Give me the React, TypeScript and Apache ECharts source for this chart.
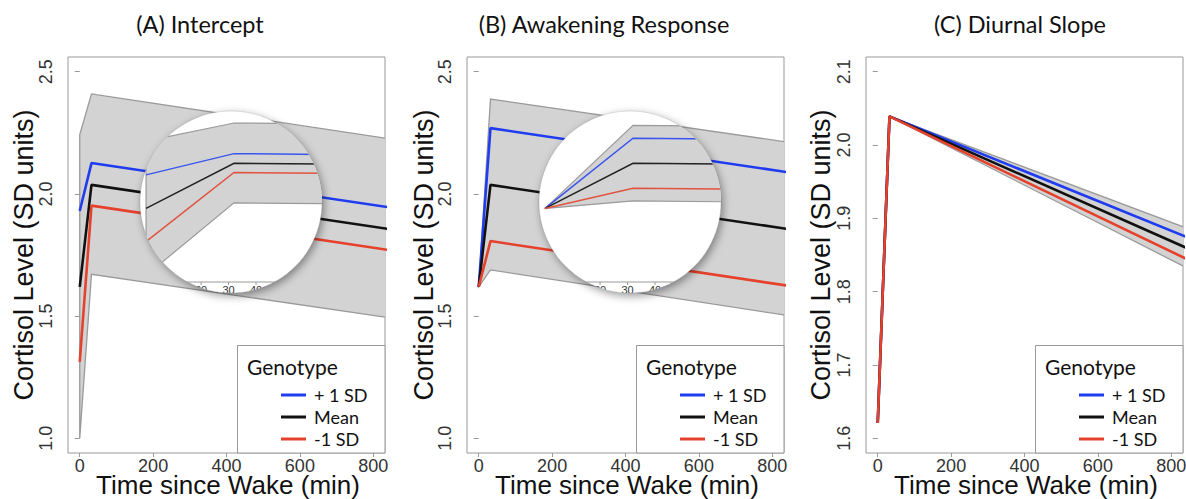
import React, { useEffect, useRef } from "react";
import * as echarts from "echarts";

// ---------- data ----------
const TIME = [0, 32, 840];

const A_PLUS = [1.93, 2.126, 1.946];
const A_MEAN = [1.62, 2.037, 1.857];
const A_MINUS = [1.313, 1.952, 1.771];
const A_UPPER = [2.242, 2.409, 2.226];
const A_LOWER = [1.0, 1.671, 1.494];

const B_PLUS = [1.62, 2.269, 2.089];
const B_MEAN = [1.62, 2.037, 1.857];
const B_MINUS = [1.62, 1.807, 1.625];
const B_UPPER = [1.62, 2.388, 2.212];
const B_LOWER = [1.62, 1.689, 1.503];

const C_PLUS = [1.621, 2.039, 1.875];
const C_MEAN = [1.621, 2.039, 1.86];
const C_MINUS = [1.621, 2.039, 1.845];
const C_UPPER = [1.621, 2.039, 1.887];
const C_LOWER = [1.621, 2.039, 1.833];

const X_TICKS = [0, 200, 400, 600, 800];
const Y_TICKS_AB = [1.0, 1.5, 2.0, 2.5];
const Y_TICKS_C = [1.6, 1.7, 1.8, 1.9, 2.0, 2.1];
const INSET_TICKS = [10, 20, 30, 40, 50, 60];

const SERIES_NAMES = ["+ 1 SD", "Mean", "-1 SD"];
const TITLES = ["(A) Intercept", "(B) Awakening Response", "(C) Diurnal Slope"];
const Y_TITLE = "Cortisol Level (SD units)";
const X_TITLE = "Time since Wake (min)";
const LEGEND_TITLE = "Genotype";

// ---------- styles ----------
const COLORS = ["#1f3cf0", "#111111", "#e5412c"];
const INSET_COLORS = ["#3a55ee", "#222222", "#e0533f"];
const BAND_FILL = "#d3d3d3";
const BAND_STROKE = "#9a9a9a";
const BOX = "#999999";
const AXIS_FONT = "Liberation Sans";
const TEXT_FONT = "Lato";

type Panel = {
  left: number;
  yMin: number;
  yMax: number;
  yTicks: number[];
  lines: number[][];
  upper: number[];
  lower: number[];
  inset: boolean;
  titleX: number;
  yTitleX: number;
  xTitleX: number;
};

const PANELS: Panel[] = [
  { left: 68, yMin: 0.94, yMax: 2.56, yTicks: Y_TICKS_AB, lines: [A_PLUS, A_MEAN, A_MINUS], upper: A_UPPER, lower: A_LOWER, inset: true, titleX: 200, yTitleX: 24, xTitleX: 228 },
  { left: 467, yMin: 0.94, yMax: 2.56, yTicks: Y_TICKS_AB, lines: [B_PLUS, B_MEAN, B_MINUS], upper: B_UPPER, lower: B_LOWER, inset: true, titleX: 604, yTitleX: 424, xTitleX: 627 },
  { left: 866, yMin: 1.58, yMax: 2.12, yTicks: Y_TICKS_C, lines: [C_PLUS, C_MEAN, C_MINUS], upper: C_UPPER, lower: C_LOWER, inset: false, titleX: 1020, yTitleX: 821, xTitleX: 1026 },
];

const GRID_TOP = 57;
const GRID_W = 317;
const GRID_H = 396;
const INSET_R = 91;
const INSET_CY = 202;

function buildOption(): any {
  const grid: any[] = [];
  const xAxis: any[] = [];
  const yAxis: any[] = [];
  const series: any[] = [];
  const legend: any[] = [];
  const graphic: any[] = [];

  PANELS.forEach((p, i) => {
    grid.push({
      left: p.left,
      top: GRID_TOP,
      width: GRID_W,
      height: GRID_H,
      show: true,
      borderColor: BOX,
      borderWidth: 1,
      backgroundColor: "transparent",
      containLabel: false,
      outerBoundsMode: "none",
    });
    xAxis.push({
      type: "value",
      gridIndex: i,
      min: -32,
      max: 832,
      axisLine: { show: false },
      splitLine: { show: false },
      axisTick: { show: true, customValues: X_TICKS, length: 4, lineStyle: { color: BOX } },
      axisLabel: {
        customValues: X_TICKS,
        color: "#333",
        fontSize: 18,
        lineHeight: 14,
        fontFamily: AXIS_FONT,
        margin: 6,
      },
    });
    yAxis.push({
      type: "value",
      gridIndex: i,
      min: p.yMin,
      max: p.yMax,
      axisLine: { show: false },
      splitLine: { show: false },
      axisTick: { show: true, customValues: p.yTicks, length: 5, lineStyle: { color: BOX } },
      axisLabel: {
        customValues: p.yTicks,
        rotate: 90,
        formatter: (v: number) => v.toFixed(1),
        color: "#333",
        fontSize: 18,
        lineHeight: 16,
        fontFamily: AXIS_FONT,
        margin: 14,
      },
    });

    // confidence band
    series.push({
      type: "custom",
      xAxisIndex: i,
      yAxisIndex: i,
      clip: true,
      silent: true,
      z: 1,
      data: [[TIME[0], p.upper[0]]],
      renderItem: (_params: any, api: any) => {
        const pts: number[][] = [];
        TIME.forEach((t, j) => pts.push(api.coord([t, p.upper[j]])));
        for (let j = TIME.length - 1; j >= 0; j--) pts.push(api.coord([TIME[j], p.lower[j]]));
        return {
          type: "polygon",
          shape: { points: pts },
          style: { fill: BAND_FILL, stroke: BAND_STROKE, lineWidth: 1.3 },
        };
      },
    });

    p.lines.forEach((arr, k) => {
      series.push({
        type: "line",
        name: SERIES_NAMES[k],
        xAxisIndex: i,
        yAxisIndex: i,
        data: TIME.map((t, j) => [t, arr[j]]),
        symbol: "none",
        showSymbol: false,
        clip: true,
        silent: true,
        z: 2,
        color: COLORS[k],
        itemStyle: { color: COLORS[k] },
        lineStyle: { color: COLORS[k], width: 2.6 },
      });
    });

    legend.push({
      left: p.left + 213,
      top: 386,
      orient: "vertical",
      icon: "rect",
      itemWidth: 25,
      itemHeight: 3,
      itemGap: 4,
      padding: 0,
      selectedMode: false,
      z: 6,
      itemStyle: { borderWidth: 0 },
      data: SERIES_NAMES,
      textStyle: { fontFamily: TEXT_FONT, fontSize: 18, lineHeight: 18, color: "#111", padding: [0, 0, 0, 3] },
    });

    graphic.push(
      {
        type: "text",
        x: p.titleX,
        y: 24,
        z: 5,
        style: { text: TITLES[i], font: `23.5px ${TEXT_FONT}`, fill: "#111", align: "center", verticalAlign: "middle" },
      },
      {
        type: "text",
        x: p.yTitleX,
        y: 255,
        rotation: Math.PI / 2,
        z: 5,
        style: { text: Y_TITLE, font: `27px ${AXIS_FONT}`, lineHeight: 24, fill: "#111", align: "center", verticalAlign: "middle" },
      },
      {
        type: "text",
        x: p.xTitleX,
        y: 485,
        z: 5,
        style: { text: X_TITLE, font: `26px ${AXIS_FONT}`, lineHeight: 22, fill: "#111", align: "center", verticalAlign: "middle" },
      },
      {
        type: "rect",
        z: 4,
        shape: { x: p.left + 169.5, y: 345.5, width: GRID_W - 169.5, height: GRID_H - 288.5 },
        style: { fill: "#fff", stroke: BOX, lineWidth: 1 },
      },
      {
        type: "text",
        x: p.left + 179,
        y: 366,
        z: 5,
        style: { text: LEGEND_TITLE, font: `21px ${TEXT_FONT}`, fill: "#111", align: "left", verticalAlign: "middle" },
      }
    );
  });

  // magnified insets for panels A and B
  let insetIdx = 0;
  PANELS.forEach((p) => {
    if (!p.inset) return;
    const gi = PANELS.length + insetIdx;
    insetIdx++;
    const cx = p.left + 163;
    grid.push({
      left: cx - INSET_R,
      top: INSET_CY - INSET_R,
      width: INSET_R * 2,
      height: INSET_R + 80,
      show: false,
      containLabel: false,
      outerBoundsMode: "none",
    });
    xAxis.push({ type: "value", gridIndex: gi, min: -2.2, max: 64, show: false });
    yAxis.push({ type: "value", gridIndex: gi, min: 0.94, max: 2.52, show: false });
    series.push({
      type: "custom",
      xAxisIndex: gi,
      yAxisIndex: gi,
      clip: false,
      silent: true,
      z: 10,
      data: [[30, 2]],
      renderItem: (params: any, api: any) => {
        const cs = params.coordSys;
        const r = cs.width / 2;
        const ccx = cs.x + r;
        const ccy = cs.y + r;
        const pt = (t: number, v: number) => api.coord([t, v]);
        const band: number[][] = [];
        TIME.forEach((t, j) => band.push(pt(t, p.upper[j])));
        for (let j = TIME.length - 1; j >= 0; j--) band.push(pt(TIME[j], p.lower[j]));
        const lines = p.lines.map((arr, k) => ({
          type: "polyline",
          shape: { points: TIME.map((t, j) => pt(t, arr[j])) },
          style: { stroke: INSET_COLORS[k], lineWidth: 1.5, fill: "none" },
        }));
        const axisY = cs.y + cs.height;
        const axisLine = {
          type: "line",
          shape: { x1: cs.x, y1: axisY, x2: cs.x + cs.width, y2: axisY },
          style: { stroke: "#999", lineWidth: 1 },
        };
        const ticks = INSET_TICKS.map((t) => {
          const x = pt(t, 1)[0];
          return { type: "line", shape: { x1: x, y1: axisY, x2: x, y2: axisY + 3 }, style: { stroke: "#999", lineWidth: 1 } };
        });
        const labels = INSET_TICKS.map((t) => ({
          type: "text",
          style: {
            text: String(t),
            x: pt(t, 1)[0],
            y: axisY + 8,
            fill: "#333",
            fontSize: 11,
            fontFamily: AXIS_FONT,
            align: "center",
            verticalAlign: "middle",
          },
        }));
        return {
          type: "group",
          children: [
            {
              type: "circle",
              shape: { cx: ccx, cy: ccy, r },
              style: {
                fill: "#fff",
                stroke: "rgba(0,0,0,0.12)",
                lineWidth: 1,
                shadowBlur: 8,
                shadowColor: "rgba(0,0,0,0.4)",
                shadowOffsetX: 2,
                shadowOffsetY: 3,
              },
            },
            {
              type: "group",
              clipPath: { type: "circle", shape: { cx: ccx, cy: ccy, r } },
              children: [
                { type: "polygon", shape: { points: band }, style: { fill: BAND_FILL, stroke: BAND_STROKE, lineWidth: 1.2 } },
                ...lines,
                axisLine,
                ...ticks,
                ...labels,
              ],
            },
          ],
        };
      },
    });
  });

  return {
    animation: false,
    backgroundColor: "#ffffff",
    tooltip: { show: false },
    grid,
    xAxis,
    yAxis,
    legend,
    series,
    graphic: { elements: graphic },
  };
}

export default function App() {
  const ref = useRef<HTMLDivElement>(null);
  useEffect(() => {
    document.body.style.margin = "0";
    const chart = echarts.init(ref.current as HTMLDivElement, null, { renderer: "svg" });
    chart.setOption(buildOption());
    return () => chart.dispose();
  }, []);
  return <div ref={ref} style={{ width: 1186, height: 499 }} />;
}
